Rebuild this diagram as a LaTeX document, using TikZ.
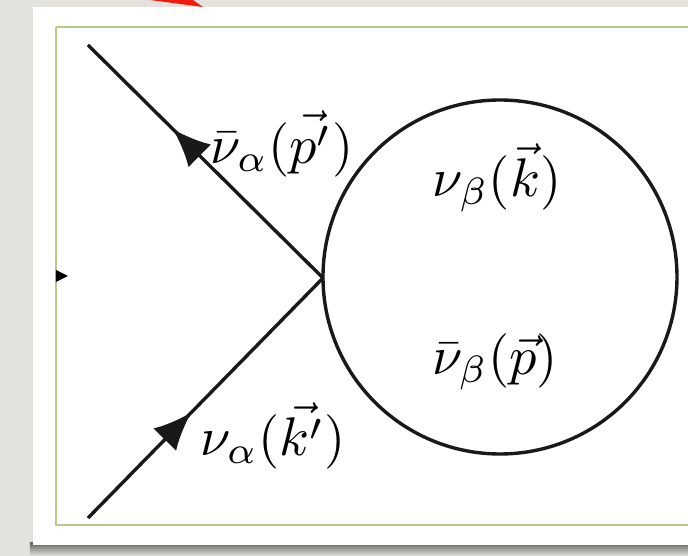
\documentclass[tikz,border=0pt]{standalone}
\usepackage{amsmath,amssymb}
\usepackage{tikz}
\usetikzlibrary{arrows.meta,decorations.markings}
\definecolor{cpaper}{HTML}{E4E2DC}
\definecolor{cframe}{HTML}{B4CB8C}
\definecolor{cred}{HTML}{F21A0C}

\begin{document}
\begin{tikzpicture}[
  x=0.25pt,y=-0.25pt,
  lab/.style={scale=1.36,inner sep=0pt},
  prop/.style={line width=0.85pt,black!90},
  loopc/.style={circle,draw=black!90,line width=0.85pt,minimum size=88.5pt,inner sep=0pt},
  midarr/.style={postaction={decorate},decoration={markings,
      mark=at position #1 with {\arrow{Latex[length=9.5pt,width=8pt]}}}}]
  % paper, panel and frame
  \useasboundingbox[fill=cpaper] (0,0) rectangle (688,556);
  \shade[top color=black!60,bottom color=cpaper] (30,543) rectangle (688,556);
  \fill[white] (33,7) rectangle (688,545);
  \draw[cframe,line width=0.5pt] (56,27) -- (56,525) -- (688,525);
  \draw[cframe,line width=0.5pt] (56,27) -- (688,27);
  \fill[cred] (135,-2) -- (203,7) -- (190,-2) -- cycle;
  \fill[black] (56,270) -- (68,276) -- (56,282) -- cycle;
  % vertex and loop
  \coordinate (v) at (323,278);
  \coordinate (a) at (88,45);
  \coordinate (b) at (88,518);
  \node[loopc] (loop) at (500,277) {};
  \draw[prop,midarr=0.64] (v) -- (a);
  \draw[prop,midarr=0.44] (b) -- (v);
  % labels
  \node[lab] (pa) at (282,144) {$\bar{\nu}_{\alpha}(\vec{p'})$};
  \node[lab] (ka) at (273,436) {$\nu_{\alpha}(\vec{k'})$};
  \node[lab] (kb) at (497,178) {$\nu_{\beta}(\vec{k})$};
  \node[lab] (pb) at (495,362) {$\bar{\nu}_{\beta}(\vec{p})$};
\end{tikzpicture}
\end{document}
